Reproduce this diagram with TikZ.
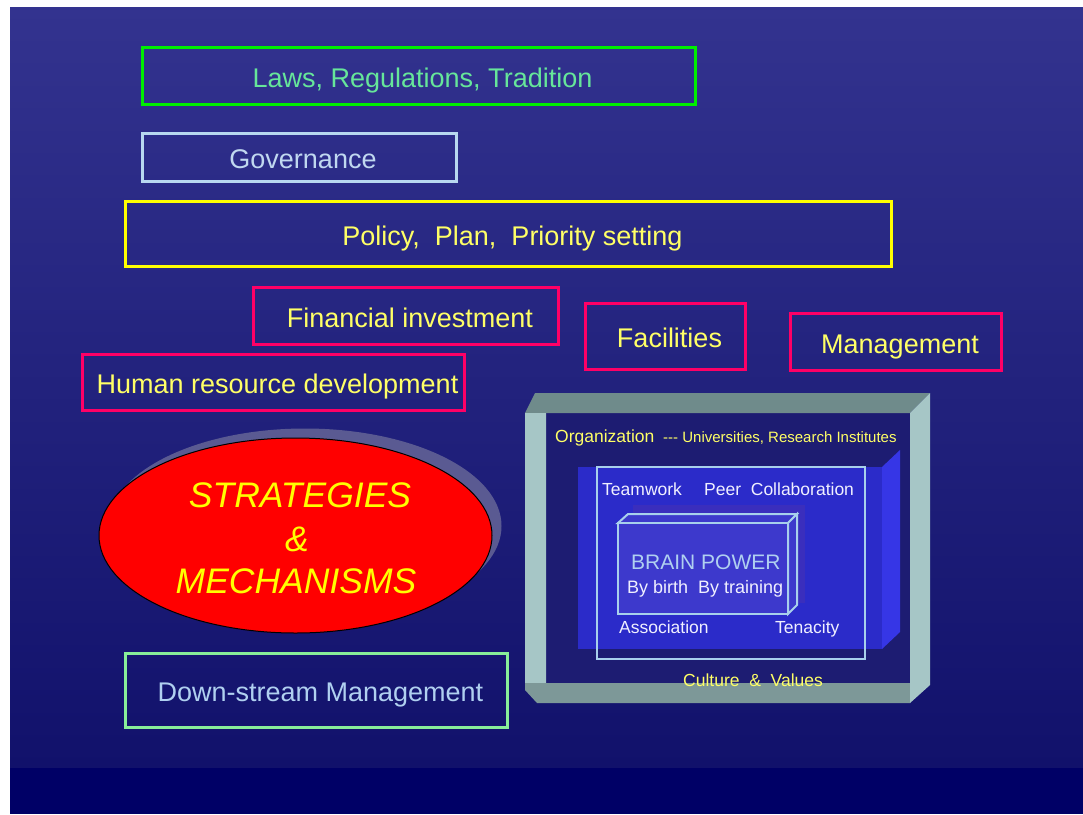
\documentclass[tikz,border=0pt]{standalone}
\usepackage{fontspec}
\setmainfont{Liberation Sans}
\usetikzlibrary{shapes.geometric}
\definecolor{bgtop}{HTML}{33338F}
\definecolor{bgbot}{HTML}{11116B}
\definecolor{bgband}{HTML}{000066}
\definecolor{lawsline}{HTML}{00EE00}
\definecolor{lawstext}{HTML}{66E69A}
\definecolor{govline}{HTML}{B8D8F0}
\definecolor{govtext}{HTML}{C0D8F0}
\definecolor{ylw}{HTML}{FFFF00}
\definecolor{ylwtext}{HTML}{FFFF66}
\definecolor{pinkline}{HTML}{FF0066}
\definecolor{downline}{HTML}{88EE99}
\definecolor{downtext}{HTML}{B0D0F0}
\definecolor{ellshadow}{HTML}{5A5A92}
\definecolor{frametop}{HTML}{6F8B8B}
\definecolor{frameside}{HTML}{A6C6C6}
\definecolor{framebot}{HTML}{7D9898}
\definecolor{frameinner}{HTML}{1D1C72}
\definecolor{bluefront}{HTML}{2B2BC9}
\definecolor{blueside}{HTML}{3636E6}
\definecolor{lightline}{HTML}{A8D0EC}
\definecolor{brainshadow}{HTML}{3A2EBD}
\definecolor{brainfront}{HTML}{3D39CC}
\definecolor{whitetext}{HTML}{F0F0FF}
\definecolor{braintext}{HTML}{B0D0F0}
\newcommand\bigtxt{\fontsize{27}{32}\selectfont}
\newcommand\smalltxt{\fontsize{17.5}{21}\selectfont}
\newcommand\tinytxt{\fontsize{15}{18}\selectfont}
\newcommand\elltxt{\fontsize{35.5}{40}\selectfont\itshape}
\tikzset{
  box/.style={draw, line width=3pt, inner sep=0pt, font=\bigtxt, text height=22pt, text depth=0pt},
  lbl/.style={inner sep=0pt, anchor=base west, font=\smalltxt},
  elabel/.style={inner sep=0pt, anchor=base, font=\elltxt, text=ylw}
}
\begin{document}
\begin{tikzpicture}[x=1pt,y=-1pt]
\useasboundingbox (0,0) rectangle (1083,814);
% background
\fill[white] (0,0) rectangle (1083,814);
\shade[top color=bgtop, bottom color=bgbot] (10,7) rectangle (1083,768);
\fill[bgband] (10,768) rectangle (1083,814);

% top boxes
\node[box, draw=lawsline, text=lawstext, minimum width=553pt, minimum height=57pt] (laws) at (419,76) {\hspace*{7pt}Laws, Regulations, Tradition};
\node[box, draw=govline, text=govtext, minimum width=314pt, minimum height=48pt] (gov) at (299.5,157.5) {\hspace*{7pt}Governance};
\node[box, draw=ylw, text=ylwtext, minimum width=766pt, minimum height=65pt] (policy) at (508.5,234) {\hspace*{8pt}Policy,\ \ Plan,\ \ Priority setting};
\node[box, draw=pinkline, text=ylwtext, minimum width=305pt, minimum height=57pt] (fin) at (406,316) {\hspace*{8pt}Financial investment};
\node[box, draw=pinkline, text=ylwtext, minimum width=160pt, minimum height=66pt] (fac) at (665.5,336.5) {\hspace*{8pt}Facilities};
\node[box, draw=pinkline, text=ylwtext, minimum width=211pt, minimum height=57pt] (mgmt) at (896,342) {\hspace*{8pt}Management};
\node[box, draw=pinkline, text=ylwtext, minimum width=382pt, minimum height=56pt] (hrd) at (273.5,382.5) {\hspace*{8pt}Human resource development};
\node[box, draw=downline, text=downtext, minimum width=382pt, minimum height=74pt] (down) at (316.5,690.5) {\hspace*{8pt}Down-stream Management};

% ellipse
\fill[ellshadow] (305,526) ellipse [x radius=196.5pt, y radius=97.5pt];
\node[ellipse, fill=red, draw=black, line width=1pt, minimum width=393pt, minimum height=195pt, inner sep=0pt] (sm) at (295.5,535.5) {};
\node[elabel] (strat) at (300,507) {STRATEGIES};
\node[elabel] (amp) at (297,551) {\&};
\node[elabel] (mech) at (296,593) {MECHANISMS};

% frame
\fill[frameinner] (546,413) rectangle (910,683);
\fill[frametop] (535,393) -- (930,393) -- (910,413) -- (525,413) -- cycle;
\fill[frameside] (525,413) -- (546,413) -- (546,683) -- (525,690) -- cycle;
\fill[framebot] (525,683) -- (910,683) -- (910,703) -- (537,703) -- (525,690) -- cycle;
\fill[frameside] (910,413) -- (930,393) -- (930,685) -- (910,703) -- cycle;

% blue box
\fill[blueside] (882,467) -- (900,450) -- (900,632) -- (882,649) -- cycle;
\fill[bluefront] (578,467) rectangle (882,649);
\draw[lightline, line width=2.5pt] (597,467) rectangle (865,659);

% brain box
\fill[brainshadow] (633,505) rectangle (805,603);
\filldraw[fill=brainfront, draw=lightline, line width=2pt] (618,523) -- (628,514) -- (797,514) -- (788,523) -- cycle;
\filldraw[fill=brainfront, draw=lightline, line width=2pt] (788,523) -- (797,514) -- (797,605) -- (788,614) -- cycle;
\filldraw[fill=brainfront, draw=lightline, line width=2pt] (618,523) rectangle (788,614);

% frame texts
\node[lbl, text=ylwtext] (org) at (555,442) {Organization};
\node[lbl, text=ylwtext, font=\tinytxt] (univ) at (663,442) {-{}-{}- Universities, Research Institutes};
\node[lbl, text=whitetext] (team) at (602,495) {Teamwork};
\node[lbl, text=whitetext] (peer) at (704,495) {Peer\ \ Collaboration};
\node[lbl, text=braintext, font=\fontsize{21}{25}\selectfont] (brain) at (631,569) {BRAIN POWER};
\node[lbl, text=whitetext, font=\fontsize{18}{22}\selectfont] (birth) at (627,593) {By birth\ \ By training};
\node[lbl, text=whitetext] (assoc) at (619,633) {Association};
\node[lbl, text=whitetext] (ten) at (775,633) {Tenacity};
\node[lbl, text=ylwtext] (cult) at (683,686) {Culture\ \ \&\ \ Values};
\end{tikzpicture}
\end{document}
